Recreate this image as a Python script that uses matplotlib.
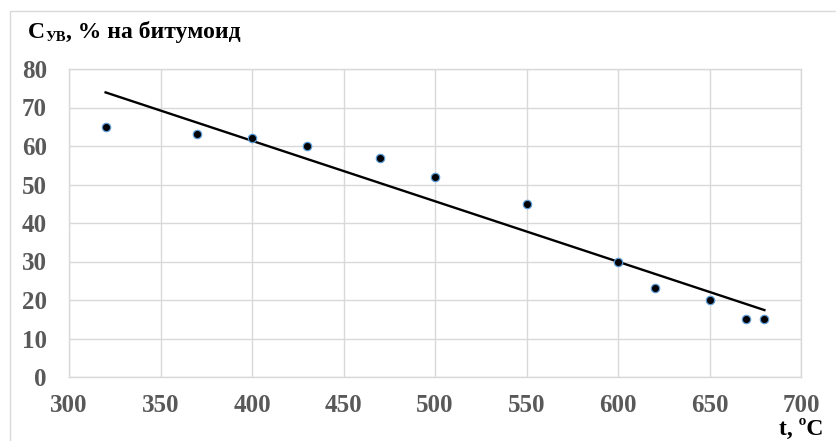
import numpy as np
import matplotlib.pyplot as plt
from matplotlib.patches import Rectangle

# Temperature, °C and hydrocarbon content, % of bitumoid
temperature = [320, 370, 400, 430, 470, 500, 550, 600, 620, 650, 670, 680]
content = [65, 63, 62, 60, 57, 52, 45, 30, 23, 20, 15, 15]

x_ticks = [300, 350, 400, 450, 500, 550, 600, 650, 700]
y_ticks = [0, 10, 20, 30, 40, 50, 60, 70, 80]

plt.rcParams['font.family'] = ['Liberation Serif', 'DejaVu Serif']

W, H = 837, 441
fig = plt.figure(figsize=(W / 100, H / 100), dpi=100)
ax = fig.add_axes([69 / W, 1 - 377 / H, (801 - 69) / W, (377 - 69) / H])

# chart frame
fig.patches.append(Rectangle((10 / W, -0.1), 1.2, 1 - 11 / H + 0.1,
                             transform=fig.transFigure, fill=False,
                             edgecolor='#d9d9d9', linewidth=1.0))

# linear trend
slope, intercept = np.polyfit(temperature, content, 1)
xt = np.array([min(temperature), max(temperature)])
ax.plot(xt, slope * xt + intercept, color='black', linewidth=1.7, zorder=3)

ax.plot(temperature, content, linestyle='none', marker='o', markersize=6,
        markerfacecolor='black', markeredgecolor='#5b9bd5', markeredgewidth=0.9,
        zorder=4)

ax.set_xlim(300, 700)
ax.set_ylim(0, 80)
ax.set_xticks(x_ticks)
ax.set_yticks(y_ticks)
ax.grid(True, color='#d9d9d9', linewidth=1.0)
ax.set_axisbelow(True)
for s in ax.spines.values():
    s.set_color('#d9d9d9')
    s.set_linewidth(1.0)
ax.tick_params(length=0, labelsize=18, labelcolor='#595959')
ax.tick_params(axis='x', pad=12)
ax.tick_params(axis='y', pad=16)
for lbl in ax.get_xticklabels() + ax.get_yticklabels():
    lbl.set_fontweight('bold')

# y-axis title with subscript, laid out piece by piece
renderer = fig.canvas.get_renderer()
x0, base = 28, 38
t1 = fig.text(x0 / W, 1 - base / H, 'C', fontsize=17, fontweight='bold',
              ha='left', va='baseline')
x1 = t1.get_window_extent(renderer).x1
t2 = fig.text(x1 / W + 0.5 / W, 1 - (base + 3) / H, 'УВ', fontsize=10.5,
              fontweight='bold', ha='left', va='baseline')
x2 = t2.get_window_extent(renderer).x1
fig.text(x2 / W, 1 - base / H, ', % на битумоид', fontsize=17,
         fontweight='bold', ha='left', va='baseline')

fig.text(823 / W, 1 - 435 / H, 't, ºC', fontsize=17, fontweight='bold',
         ha='right', va='baseline', color='black')

fig.savefig('out.png', dpi=100)
